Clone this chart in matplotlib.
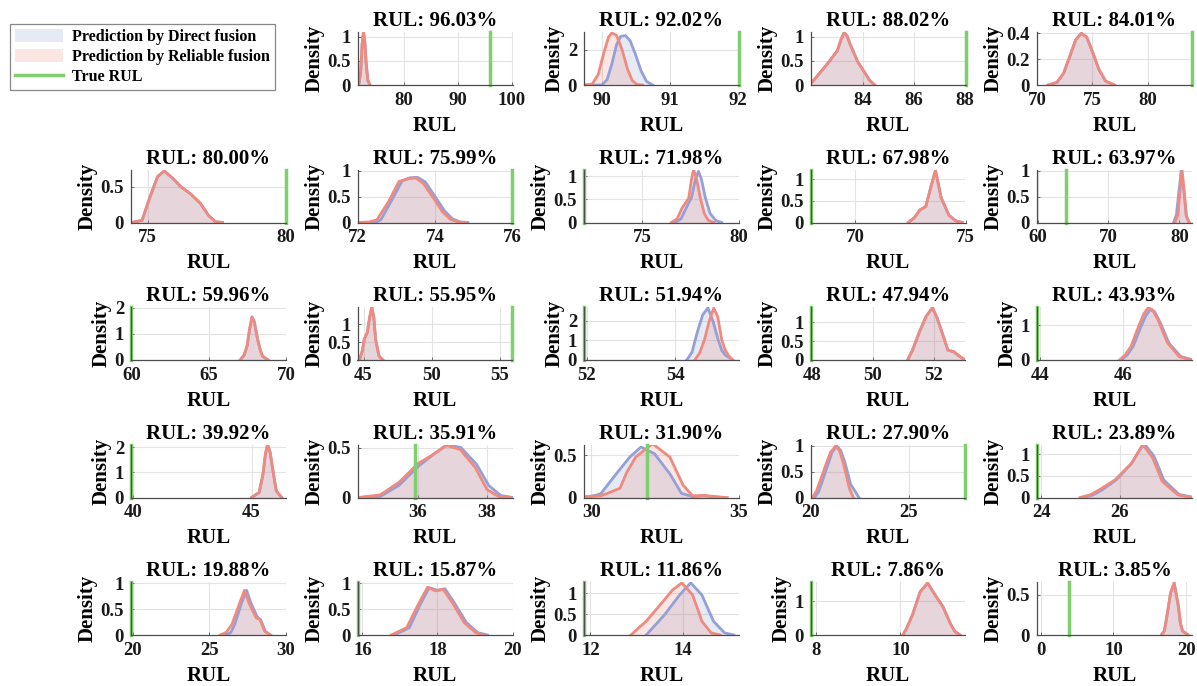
import matplotlib
matplotlib.use("Agg")
import matplotlib.pyplot as plt
from matplotlib.patches import Patch
from matplotlib.lines import Line2D
from matplotlib.ticker import FuncFormatter
from matplotlib.colors import to_rgba

plt.rcParams['font.family'] = ['Liberation Serif', 'DejaVu Serif']
plt.rcParams['font.weight'] = 'bold'
plt.rcParams['axes.titleweight'] = 'bold'
plt.rcParams['axes.labelweight'] = 'bold'

# ---- data ----
rul_pct = [96.03, 92.02, 88.02, 84.01, 80.00, 75.99, 71.98, 67.98,
           63.97, 59.96, 55.95, 51.94, 47.94, 43.93, 39.92, 35.91,
           31.90, 27.90, 23.89, 19.88, 15.87, 11.86, 7.86, 3.85]
true_rul = [96.03, 92.02, 88.02, 84.01, 80.00, 75.99, 71.98, 67.98,
            63.97, 59.96, 55.95, 51.94, 47.94, 43.93, 39.92, 35.91,
            31.90, 27.90, 23.89, 19.88, 15.87, 11.86, 7.86, 3.85]

x_limits = [(71.5, 100.1), (89.74, 92.02), (81.95, 88.02), (70, 84.01),
            (74.4, 80.0), (72, 76), (71.98, 80), (67.98, 75.0),
            (59.9, 81.8), (59.96, 70), (44.55, 55.95), (51.94, 55.44),
            (47.94, 53.05), (43.93, 47.65), (39.92, 46.45), (34.24, 38.74),
            (29.75, 35.0), (20, 27.9), (23.89, 27.85), (19.88, 30),
            (15.87, 20.0), (11.86, 15.2), (7.86, 11.55), (-0.5, 20.8)]
y_limits = [1.1, 3.0, 1.1, 0.41, 0.74, 1.02, 1.15, 1.23,
            1.02, 2.02, 1.48, 2.7, 1.4, 1.53, 2.1, 0.53,
            0.63, 1.02, 1.22, 1.02, 1.02, 1.27, 1.56, 0.66]
x_ticks = [[80, 90, 100], [90, 91, 92], [84, 86, 88], [70, 75, 80],
           [75, 80], [72, 74, 76], [75, 80], [70, 75],
           [60, 70, 80], [60, 65, 70], [45, 50, 55], [52, 54],
           [48, 50, 52], [44, 46], [40, 45], [36, 38],
           [30, 35], [20, 25], [24, 26], [20, 25, 30],
           [16, 18, 20], [12, 14], [8, 10], [0, 10, 20]]
y_ticks = [[0, 0.5, 1], [0, 2], [0, 0.5, 1], [0, 0.2, 0.4],
           [0, 0.5], [0, 0.5, 1], [0, 0.5, 1], [0, 0.5, 1],
           [0, 0.5, 1], [0, 1, 2], [0, 0.5, 1], [0, 1, 2],
           [0, 0.5, 1], [0, 1], [0, 1, 2], [0, 0.5],
           [0, 0.5], [0, 0.5, 1], [0, 0.5, 1], [0, 0.5, 1],
           [0, 0.5, 1], [0, 0.5, 1], [0, 1], [0, 0.5]]

# reliable fusion (red) and direct fusion (blue) density curves
rel_x_01 = [71.5, 71.8, 72.1, 72.35, 72.6, 72.85, 73.1, 73.4, 73.8]
rel_y_01 = [0, 0.04, 0.3, 0.85, 1.1, 0.9, 0.45, 0.1, 0]
dir_x_01 = rel_x_01
dir_y_01 = rel_y_01

rel_x_02 = [89.74, 89.86, 89.95, 90.03, 90.1, 90.15, 90.22, 90.3, 90.38, 90.45, 90.52, 90.6]
rel_y_02 = [0, 0.05, 0.6, 1.8, 2.7, 2.95, 2.8, 2.0, 0.9, 0.25, 0.03, 0]
dir_x_02 = [89.74, 90.0, 90.08, 90.15, 90.22, 90.28, 90.35, 90.42, 90.5, 90.58, 90.66, 90.75]
dir_y_02 = [0, 0, 0.3, 1.2, 2.3, 2.75, 2.8, 2.5, 1.7, 0.8, 0.2, 0]

rel_x_03 = [81.95, 82.35, 82.67, 83.0, 83.15, 83.27, 83.38, 83.5, 83.8, 84.06, 84.26, 84.46]
rel_y_03 = [0.02, 0.27, 0.48, 0.71, 0.95, 1.09, 1.02, 0.85, 0.48, 0.27, 0.1, 0]
dir_x_03 = rel_x_03
dir_y_03 = rel_y_03

rel_x_04 = [71.0, 71.8, 72.4, 73.0, 73.5, 74.0, 74.5, 75.0, 75.6, 76.2, 77.0]
rel_y_04 = [0, 0.02, 0.09, 0.23, 0.35, 0.4, 0.37, 0.26, 0.12, 0.03, 0]
dir_x_04 = rel_x_04
dir_y_04 = rel_y_04

rel_x_05 = [74.42, 74.8, 75.07, 75.36, 75.6, 75.9, 76.2, 76.55, 76.9, 77.2, 77.45, 77.7]
rel_y_05 = [0, 0.03, 0.34, 0.64, 0.72, 0.62, 0.5, 0.4, 0.27, 0.1, 0.01, 0]
dir_x_05 = rel_x_05
dir_y_05 = rel_y_05

rel_x_06 = [72.0, 72.3, 72.5, 72.8, 73.07, 73.3, 73.5, 73.7, 73.96, 74.2, 74.4, 74.6, 74.8]
rel_y_06 = [0, 0.01, 0.05, 0.4, 0.79, 0.84, 0.86, 0.75, 0.47, 0.2, 0.06, 0.01, 0]
dir_x_06 = [72.0, 72.45, 72.6, 72.9, 73.15, 73.35, 73.55, 73.75, 74.0, 74.25, 74.45, 74.65, 74.85]
dir_y_06 = [0, 0, 0.05, 0.45, 0.8, 0.86, 0.87, 0.78, 0.5, 0.22, 0.07, 0.01, 0]

rel_x_07 = [76.5, 76.8, 77.05, 77.4, 77.55, 77.65, 77.8, 78.0, 78.2, 78.4, 78.7]
rel_y_07 = [0, 0.08, 0.31, 0.53, 0.95, 1.15, 0.95, 0.53, 0.2, 0.05, 0]
dir_x_07 = [76.7, 77.0, 77.25, 77.55, 77.75, 77.9, 78.05, 78.25, 78.5, 78.8, 79.1]
dir_y_07 = [0, 0.08, 0.3, 0.55, 0.95, 1.11, 0.95, 0.55, 0.2, 0.04, 0]

rel_x_08 = [72.41, 72.7, 72.93, 73.2, 73.46, 73.64, 73.9, 74.25, 74.55, 74.86]
rel_y_08 = [0, 0.12, 0.29, 0.37, 0.88, 1.21, 0.57, 0.17, 0.04, 0]
dir_x_08 = rel_x_08
dir_y_08 = rel_y_08

rel_x_09 = [79.4, 79.8, 80.1, 80.4, 80.7, 81.0, 81.4]
rel_y_09 = [0, 0.15, 0.6, 1.0, 0.6, 0.12, 0]
dir_x_09 = [79.2, 79.6, 79.95, 80.3, 80.65, 81.0, 81.4]
dir_y_09 = [0, 0.15, 0.6, 1.0, 0.6, 0.12, 0]

rel_x_10 = [67.03, 67.3, 67.48, 67.65, 67.8, 67.95, 68.16, 68.35, 68.48, 68.84]
rel_y_10 = [0, 0.2, 0.54, 1.2, 1.64, 1.45, 0.79, 0.35, 0.15, 0]
dir_x_10 = rel_x_10
dir_y_10 = rel_y_10

rel_x_11 = [44.69, 44.9, 45.05, 45.27, 45.45, 45.6, 45.75, 45.88, 46.13, 46.42]
rel_y_11 = [0, 0.25, 0.58, 0.77, 1.2, 1.48, 1.2, 0.58, 0.11, 0]
dir_x_11 = rel_x_11
dir_y_11 = rel_y_11

rel_x_12 = [54.44, 54.55, 54.66, 54.77, 54.87, 54.96, 55.05, 55.13, 55.21, 55.30]
rel_y_12 = [0, 0.35, 1.03, 2.0, 2.65, 2.2, 1.03, 0.5, 0.2, 0]
dir_x_12 = [54.26, 54.38, 54.49, 54.62, 54.74, 54.85, 54.97, 55.05, 55.13, 55.30]
dir_y_12 = [0, 0.4, 1.35, 2.3, 2.65, 2.0, 1.03, 0.5, 0.25, 0]

rel_x_13 = [51.14, 51.3, 51.52, 51.75, 51.96, 52.12, 52.28, 52.47, 52.66, 52.85, 53.04]
rel_y_13 = [0, 0.25, 0.72, 1.15, 1.38, 1.1, 0.72, 0.26, 0.22, 0.1, 0]
dir_x_13 = rel_x_13
dir_y_13 = rel_y_13

rel_x_14 = [45.91, 46.05, 46.19, 46.37, 46.5, 46.6, 46.7, 46.83, 47.06, 47.34, 47.62]
rel_y_14 = [0, 0.15, 0.4, 0.98, 1.35, 1.51, 1.45, 1.17, 0.5, 0.1, 0]
dir_x_14 = [45.95, 46.1, 46.24, 46.42, 46.55, 46.65, 46.75, 46.88, 47.1, 47.38, 47.65]
dir_y_14 = [0, 0.15, 0.4, 0.95, 1.3, 1.45, 1.4, 1.1, 0.48, 0.1, 0.01]

rel_x_15 = [45.0, 45.32, 45.48, 45.58, 45.67, 45.78, 45.88, 46.04, 46.27]
rel_y_15 = [0, 0.2, 0.92, 1.7, 2.1, 1.8, 1.18, 0.26, 0]
dir_x_15 = rel_x_15
dir_y_15 = rel_y_15

rel_x_16 = [34.27, 34.9, 35.44, 36.0, 36.44, 36.82, 37.22, 37.66, 38.0, 38.33, 38.67]
rel_y_16 = [0, 0.026, 0.15, 0.34, 0.43, 0.52, 0.48, 0.30, 0.08, 0.01, 0]
dir_x_16 = [34.27, 34.9, 35.44, 36.0, 36.44, 36.84, 37.24, 37.7, 38.05, 38.4, 38.74]
dir_y_16 = [0, 0.01, 0.12, 0.31, 0.43, 0.53, 0.5, 0.33, 0.12, 0.02, 0]

rel_x_17 = [29.76, 30.33, 30.97, 31.2, 31.5, 32.07, 32.66, 33.1, 33.43, 33.82, 34.34, 34.6]
rel_y_17 = [0.01, 0.02, 0.11, 0.3, 0.48, 0.64, 0.48, 0.15, 0.02, 0.025, 0.005, 0]
dir_x_17 = [29.76, 30.19, 30.33, 30.84, 31.3, 31.68, 32.14, 32.66, 33.05, 33.43, 33.8, 34.47]
dir_y_17 = [0.0, 0.03, 0.05, 0.28, 0.48, 0.6, 0.52, 0.28, 0.05, 0.01, 0.02, 0]

rel_x_18 = [20.1, 20.3, 20.52, 20.8, 21.02, 21.3, 21.5, 21.69, 21.98, 22.18]
rel_y_18 = [0, 0.12, 0.35, 0.65, 0.87, 1.0, 0.88, 0.64, 0.18, 0]
dir_x_18 = [20.2, 20.4, 20.62, 20.9, 21.1, 21.35, 21.55, 21.75, 22.05, 22.47]
dir_y_18 = [0, 0.1, 0.33, 0.65, 0.87, 0.99, 0.9, 0.68, 0.25, 0]

rel_x_19 = [24.99, 25.25, 25.49, 25.89, 26.29, 26.45, 26.59, 26.84, 27.09, 27.49, 27.85]
rel_y_19 = [0, 0.06, 0.18, 0.41, 0.77, 1.0, 1.22, 0.92, 0.37, 0.06, 0]
dir_x_19 = [25.05, 25.3, 25.55, 25.92, 26.32, 26.48, 26.63, 26.88, 27.13, 27.52, 27.85]
dir_y_19 = [0, 0.05, 0.17, 0.41, 0.8, 1.05, 1.24, 0.95, 0.4, 0.07, 0.01]

rel_x_20 = [25.71, 26.1, 26.46, 26.97, 27.29, 27.59, 28.05, 28.3, 28.6, 28.96]
rel_y_20 = [0, 0.05, 0.2, 0.61, 0.86, 0.61, 0.33, 0.3, 0.075, 0]
dir_x_20 = [26.1, 26.4, 26.65, 27.1, 27.43, 27.7, 28.12, 28.35, 28.65, 29.0]
dir_y_20 = [0, 0.05, 0.2, 0.62, 0.86, 0.62, 0.35, 0.29, 0.07, 0]

rel_x_21 = [16.77, 17.18, 17.49, 17.74, 17.95, 18.15, 18.4, 18.71, 19.02, 19.23]
rel_y_21 = [0, 0.14, 0.59, 0.92, 0.85, 0.88, 0.62, 0.24, 0.045, 0]
dir_x_21 = [16.85, 17.25, 17.55, 17.78, 18.0, 18.2, 18.45, 18.77, 19.08, 19.33]
dir_y_21 = [0, 0.14, 0.6, 0.91, 0.86, 0.89, 0.62, 0.24, 0.045, 0]

rel_x_22 = [12.87, 13.2, 13.56, 13.77, 13.97, 14.2, 14.3, 14.4, 14.6, 14.8]
rel_y_22 = [0, 0.33, 0.8, 1.08, 1.25, 0.96, 0.65, 0.33, 0.05, 0]
dir_x_22 = [13.2, 13.6, 13.92, 14.16, 14.4, 14.65, 14.89, 15.09]
dir_y_22 = [0, 0.49, 0.96, 1.25, 0.96, 0.33, 0.05, 0]

rel_x_23 = [10.06, 10.15, 10.29, 10.47, 10.65, 10.83, 11.01, 11.2, 11.3, 11.42]
rel_y_23 = [0, 0.2, 0.6, 1.27, 1.53, 1.17, 0.84, 0.31, 0.1, 0]
dir_x_23 = rel_x_23
dir_y_23 = rel_y_23

rel_x_24 = [16.6, 17.0, 17.38, 17.85, 18.35, 18.96, 19.2, 19.5, 20.27]
rel_y_24 = [0, 0.05, 0.25, 0.52, 0.65, 0.34, 0.15, 0.05, 0]
dir_x_24 = rel_x_24
dir_y_24 = rel_y_24

reliable = [(rel_x_01, rel_y_01), (rel_x_02, rel_y_02), (rel_x_03, rel_y_03), (rel_x_04, rel_y_04),
            (rel_x_05, rel_y_05), (rel_x_06, rel_y_06), (rel_x_07, rel_y_07), (rel_x_08, rel_y_08),
            (rel_x_09, rel_y_09), (rel_x_10, rel_y_10), (rel_x_11, rel_y_11), (rel_x_12, rel_y_12),
            (rel_x_13, rel_y_13), (rel_x_14, rel_y_14), (rel_x_15, rel_y_15), (rel_x_16, rel_y_16),
            (rel_x_17, rel_y_17), (rel_x_18, rel_y_18), (rel_x_19, rel_y_19), (rel_x_20, rel_y_20),
            (rel_x_21, rel_y_21), (rel_x_22, rel_y_22), (rel_x_23, rel_y_23), (rel_x_24, rel_y_24)]
direct = [(dir_x_01, dir_y_01), (dir_x_02, dir_y_02), (dir_x_03, dir_y_03), (dir_x_04, dir_y_04),
          (dir_x_05, dir_y_05), (dir_x_06, dir_y_06), (dir_x_07, dir_y_07), (dir_x_08, dir_y_08),
          (dir_x_09, dir_y_09), (dir_x_10, dir_y_10), (dir_x_11, dir_y_11), (dir_x_12, dir_y_12),
          (dir_x_13, dir_y_13), (dir_x_14, dir_y_14), (dir_x_15, dir_y_15), (dir_x_16, dir_y_16),
          (dir_x_17, dir_y_17), (dir_x_18, dir_y_18), (dir_x_19, dir_y_19), (dir_x_20, dir_y_20),
          (dir_x_21, dir_y_21), (dir_x_22, dir_y_22), (dir_x_23, dir_y_23), (dir_x_24, dir_y_24)]

# ---- styling ----
blue_line = '#94a0d8'
blue_fill = to_rgba('#8296cd', 0.2)
red_line = '#f08a7e'
red_fill = to_rgba('#f08278', 0.2)
green = '#7fd06c'

W, H = 1197, 686
fig = plt.figure(figsize=(W / 100, H / 100), dpi=100)

fmt = FuncFormatter(lambda v, p: '%g' % v)

for i in range(24):
    cell = i + 1
    row, col = cell // 5, cell % 5
    left = 131 + col * 226.5
    top = 32 + row * 137.5
    ax = fig.add_axes([left / W, 1 - (top + 53) / H, 155 / W, 53 / H])

    dx, dy = direct[i]
    rx, ry = reliable[i]
    ax.fill_between(dx, dy, 0, color=blue_fill, lw=0)
    ax.plot(dx, dy, color=blue_line, lw=2, solid_joinstyle='round')
    ax.fill_between(rx, ry, 0, color=red_fill, lw=0)
    ax.plot(rx, ry, color=red_line, lw=2, solid_joinstyle='round')
    ax.axvline(true_rul[i], color=green, lw=2.5, clip_on=False)

    ax.set_xlim(*x_limits[i])
    ax.set_ylim(0, y_limits[i])
    ax.set_xticks(x_ticks[i])
    ax.set_yticks(y_ticks[i])
    ax.xaxis.set_major_formatter(fmt)
    ax.yaxis.set_major_formatter(fmt)
    ax.grid(True, color='#e3e3e3', lw=0.8)
    ax.set_axisbelow(True)
    for s in ['top', 'right']:
        ax.spines[s].set_visible(False)
    for s in ['left', 'bottom']:
        ax.spines[s].set_color('#4d4d4d')
        ax.spines[s].set_linewidth(0.9)
    ax.tick_params(direction='in', length=2, width=0.6, labelsize=13.5, pad=5,
                   colors='#555555', labelcolor='#1a1a1a')
    ax.set_title('RUL: %.2f%%' % rul_pct[i], fontsize=15, pad=4)
    ax.set_xlabel('RUL', fontsize=15, labelpad=5)
    ax.set_ylabel('Density', fontsize=15, labelpad=2)

handles = [Patch(facecolor=blue_fill, edgecolor='none'),
           Patch(facecolor=red_fill, edgecolor='none'),
           Line2D([], [], color=green, lw=2.5)]
labels = ['Prediction by Direct fusion', 'Prediction by Reliable fusion', 'True RUL']
leg = fig.legend(handles, labels, loc='upper left', bbox_to_anchor=(10 / W, 1 - 24 / H),
                 fontsize=11.5, frameon=True, fancybox=False, edgecolor='#888888',
                 framealpha=1, handlelength=3.0, handleheight=0.9,
                 labelspacing=0.25, borderpad=0.3, handletextpad=0.6, borderaxespad=0)
leg.get_frame().set_linewidth(0.9)

fig.savefig('out.png', dpi=100)
